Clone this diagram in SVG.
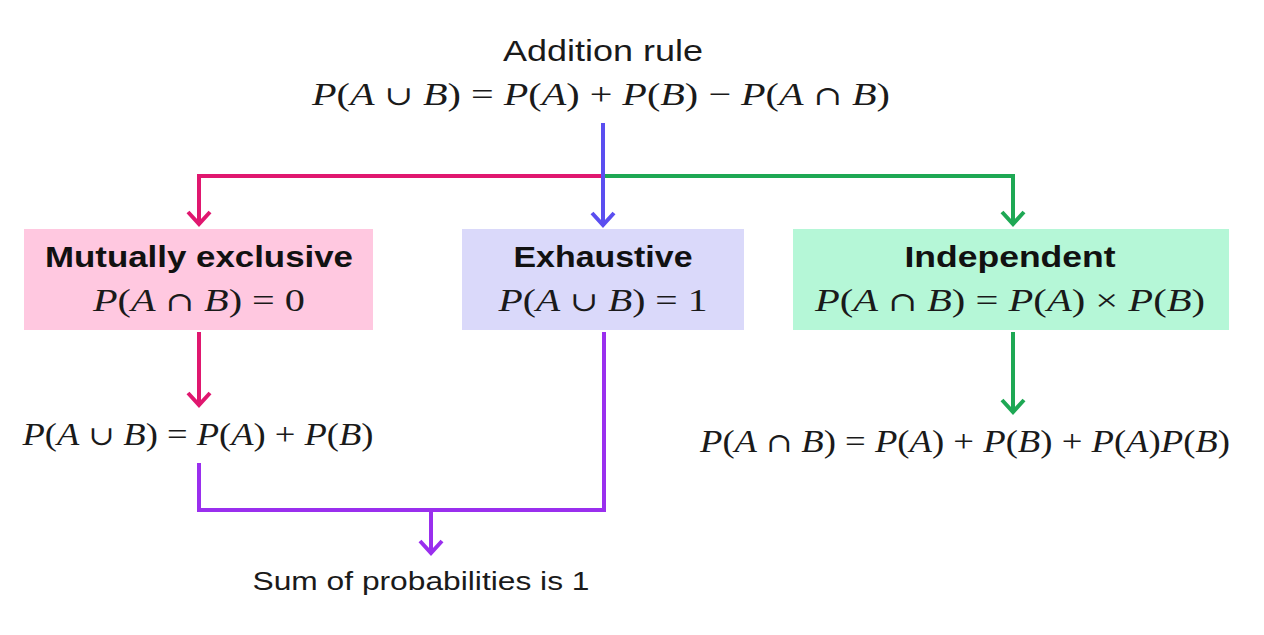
<svg xmlns="http://www.w3.org/2000/svg" width="1264" height="635" viewBox="0 0 1264 635">
<style>
.sans{font-family:"Liberation Sans",Arial,sans-serif;fill:#1a1a1a}
.title{font-family:"Liberation Sans",Arial,sans-serif;font-weight:bold;font-size:30px;fill:#111}
.math{font-family:"Liberation Serif","Times New Roman",serif;font-size:32px;fill:#1a1a1a}
.i{font-style:italic}
.op{font-family:"DejaVu Serif",serif;font-size:27px}
.ln{fill:none;stroke-width:4}
</style>
<defs>
<marker id="ah-pink" markerUnits="userSpaceOnUse" viewBox="-16 -14 20 28" markerWidth="20" markerHeight="28" refX="0" refY="0" orient="auto" overflow="visible"><path d="M-13,-11 L-1,0 L-13,11" fill="none" stroke="#E0176F" stroke-width="4"/></marker>
<marker id="ah-green" markerUnits="userSpaceOnUse" viewBox="-16 -14 20 28" markerWidth="20" markerHeight="28" refX="0" refY="0" orient="auto" overflow="visible"><path d="M-13,-11 L-1,0 L-13,11" fill="none" stroke="#1EA854" stroke-width="4"/></marker>
<marker id="ah-blue" markerUnits="userSpaceOnUse" viewBox="-16 -14 20 28" markerWidth="20" markerHeight="28" refX="0" refY="0" orient="auto" overflow="visible"><path d="M-13,-11 L-1,0 L-13,11" fill="none" stroke="#5A4EF0" stroke-width="4"/></marker>
<marker id="ah-purple" markerUnits="userSpaceOnUse" viewBox="-16 -14 20 28" markerWidth="20" markerHeight="28" refX="0" refY="0" orient="auto" overflow="visible"><path d="M-13,-11 L-1,0 L-13,11" fill="none" stroke="#9A2FEE" stroke-width="4"/></marker>
</defs>
<rect width="1264" height="635" fill="#fff"/>

<g id="connectors">
<path class="ln" stroke="#E0176F" d="M603,176 H199 V225" marker-end="url(#ah-pink)"/>
<path class="ln" stroke="#1EA854" d="M603,176 H1013 V225" marker-end="url(#ah-green)"/>
<path class="ln" stroke="#5A4EF0" d="M603,123 V226" marker-end="url(#ah-blue)"/>
<path class="ln" stroke="#E0176F" d="M199,332 V406" marker-end="url(#ah-pink)"/>
<path class="ln" stroke="#1EA854" d="M1013,332 V413" marker-end="url(#ah-green)"/>
<path class="ln" stroke="#9A2FEE" d="M199,463 V510 H604 V332"/>
<path class="ln" stroke="#9A2FEE" d="M431,510 V554" marker-end="url(#ah-purple)"/>
</g>

<g id="addition-rule">
<text class="sans" x="603" y="61" font-size="29" text-anchor="middle" textLength="200" lengthAdjust="spacingAndGlyphs">Addition rule</text>
<text class="math" x="601" y="105" text-anchor="middle" textLength="578" lengthAdjust="spacingAndGlyphs"><tspan class="i">P</tspan>(<tspan class="i">A</tspan> <tspan class="op">∪</tspan> <tspan class="i">B</tspan>) = <tspan class="i">P</tspan>(<tspan class="i">A</tspan>) + <tspan class="i">P</tspan>(<tspan class="i">B</tspan>) − <tspan class="i">P</tspan>(<tspan class="i">A</tspan> <tspan class="op">∩</tspan> <tspan class="i">B</tspan>)</text>
</g>

<g id="mutually-exclusive">
<rect x="24" y="229" width="349" height="101" fill="#FFC8E0"/>
<text class="title" x="199" y="267" text-anchor="middle" textLength="308" lengthAdjust="spacingAndGlyphs">Mutually exclusive</text>
<text class="math" x="199" y="311" text-anchor="middle" textLength="212" lengthAdjust="spacingAndGlyphs"><tspan class="i">P</tspan>(<tspan class="i">A</tspan> <tspan class="op">∩</tspan> <tspan class="i">B</tspan>) = 0</text>
</g>

<g id="exhaustive">
<rect x="462" y="229" width="282" height="101" fill="#DAD9FA"/>
<text class="title" x="603" y="267" text-anchor="middle" textLength="179" lengthAdjust="spacingAndGlyphs">Exhaustive</text>
<text class="math" x="603" y="311" text-anchor="middle" textLength="209" lengthAdjust="spacingAndGlyphs"><tspan class="i">P</tspan>(<tspan class="i">A</tspan> <tspan class="op">∪</tspan> <tspan class="i">B</tspan>) = 1</text>
</g>

<g id="independent">
<rect x="793" y="229" width="436" height="101" fill="#B5F7D7"/>
<text class="title" x="1010" y="267" text-anchor="middle" textLength="211" lengthAdjust="spacingAndGlyphs">Independent</text>
<text class="math" x="1010" y="311" text-anchor="middle" textLength="390" lengthAdjust="spacingAndGlyphs"><tspan class="i">P</tspan>(<tspan class="i">A</tspan> <tspan class="op">∩</tspan> <tspan class="i">B</tspan>) = <tspan class="i">P</tspan>(<tspan class="i">A</tspan>) × <tspan class="i">P</tspan>(<tspan class="i">B</tspan>)</text>
</g>

<g id="mutually-exclusive-result">
<text class="math" x="198" y="445" text-anchor="middle" textLength="351" lengthAdjust="spacingAndGlyphs"><tspan class="i">P</tspan>(<tspan class="i">A</tspan> <tspan class="op">∪</tspan> <tspan class="i">B</tspan>) = <tspan class="i">P</tspan>(<tspan class="i">A</tspan>) + <tspan class="i">P</tspan>(<tspan class="i">B</tspan>)</text>
</g>

<g id="independent-result">
<text class="math" x="965" y="452" text-anchor="middle" textLength="530" lengthAdjust="spacingAndGlyphs"><tspan class="i">P</tspan>(<tspan class="i">A</tspan> <tspan class="op">∩</tspan> <tspan class="i">B</tspan>) = <tspan class="i">P</tspan>(<tspan class="i">A</tspan>) + <tspan class="i">P</tspan>(<tspan class="i">B</tspan>) + <tspan class="i">P</tspan>(<tspan class="i">A</tspan>)<tspan class="i">P</tspan>(<tspan class="i">B</tspan>)</text>
</g>

<g id="sum-of-probabilities">
<text class="sans" x="421" y="590" font-size="26" text-anchor="middle" textLength="337" lengthAdjust="spacingAndGlyphs">Sum of probabilities is 1</text>
</g>
</svg>
